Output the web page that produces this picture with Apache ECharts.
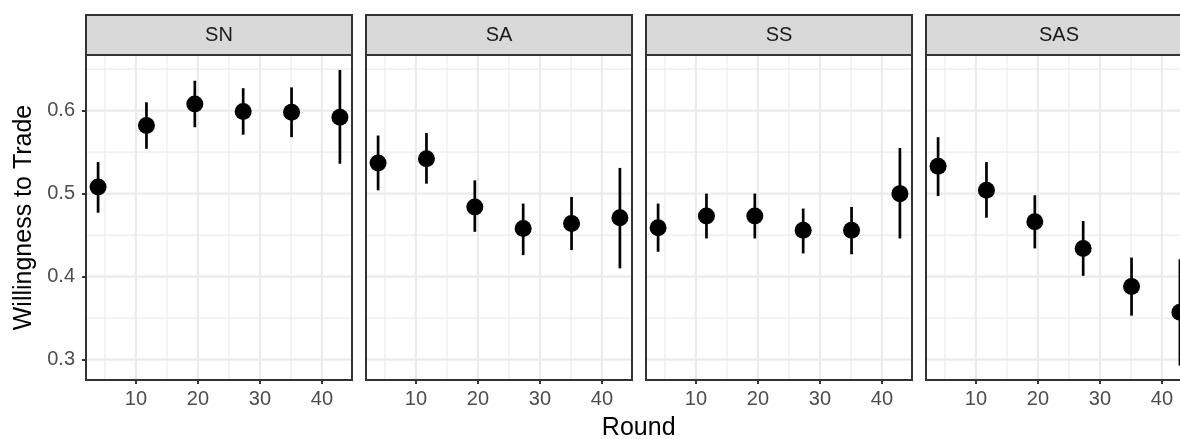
<!DOCTYPE html>
<html><head><meta charset="utf-8">
<script src="https://cdn.jsdelivr.net/npm/echarts@6/dist/echarts.min.js"></script>
<style>html,body{margin:0;padding:0;background:#fff}#c{width:1180px;height:439px}</style>
</head><body><div id="c"></div>
<script>
// ---- data ----
const panels = ['SN', 'SA', 'SS', 'SAS'];
const rounds = [3.9, 11.7, 19.5, 27.3, 35.1, 42.9];

const meanSN = [0.508, 0.582, 0.608, 0.599, 0.598, 0.592];
const loSN   = [0.477, 0.554, 0.580, 0.571, 0.568, 0.536];
const hiSN   = [0.538, 0.610, 0.636, 0.627, 0.628, 0.649];

const meanSA = [0.537, 0.542, 0.484, 0.458, 0.464, 0.471];
const loSA   = [0.504, 0.512, 0.454, 0.426, 0.432, 0.410];
const hiSA   = [0.570, 0.573, 0.516, 0.488, 0.496, 0.531];

const meanSS = [0.459, 0.473, 0.473, 0.456, 0.456, 0.500];
const loSS   = [0.430, 0.446, 0.446, 0.428, 0.427, 0.446];
const hiSS   = [0.488, 0.500, 0.500, 0.482, 0.484, 0.555];

const meanSAS = [0.533, 0.504, 0.466, 0.434, 0.388, 0.357];
const loSAS   = [0.497, 0.471, 0.434, 0.401, 0.353, 0.293];
const hiSAS   = [0.568, 0.538, 0.498, 0.467, 0.423, 0.421];

const xTicks = [10, 20, 30, 40];
const xMinor = [5, 15, 25, 35];
const yTicks = [0.3, 0.4, 0.5, 0.6];
const yMinor = [0.35, 0.45, 0.55, 0.65];

const xMin = 1.95, xMax = 44.85;
const yMin = 0.2755, yMax = 0.667;

const xTitle = 'Round';
const yTitle = 'Willingness to Trade';

// ---- build ----
const means = [meanSN, meanSA, meanSS, meanSAS];
const los = [loSN, loSA, loSS, loSAS];
const his = [hiSN, hiSA, hiSS, hiSAS];

const FONT = '"Liberation Sans", Arial, Helvetica, sans-serif';
const P_LEFT = 86, P_STEP = 280, P_W = 266, P_TOP = 55, P_H = 325;

const grids = [], xAxes = [], yAxes = [], series = [], graphics = [];

function vLines(vals, i, width) {
  return {
    type: 'custom', xAxisIndex: i, yAxisIndex: i, z: 1, silent: true,
    data: vals.map(v => [v, yMin]), encode: { x: 0, y: 1 },
    renderItem: (params, api) => {
      const cs = params.coordSys;
      const x = api.coord([api.value(0), yMin])[0];
      return { type: 'line', shape: { x1: x, y1: cs.y, x2: x, y2: cs.y + cs.height },
        style: { stroke: '#EBEBEB', lineWidth: width } };
    }
  };
}
function hLines(vals, i, width) {
  return {
    type: 'custom', xAxisIndex: i, yAxisIndex: i, z: 1, silent: true,
    data: vals.map(v => [xMin, v]), encode: { x: 0, y: 1 },
    renderItem: (params, api) => {
      const cs = params.coordSys;
      const y = api.coord([xMin, api.value(1)])[1];
      return { type: 'line', shape: { x1: cs.x, y1: y, x2: cs.x + cs.width, y2: y },
        style: { stroke: '#EBEBEB', lineWidth: width } };
    }
  };
}

panels.forEach((name, i) => {
  const left = P_LEFT + P_STEP * i;
  grids.push({ left: left, top: P_TOP, width: P_W, height: P_H, show: false,
    containLabel: false, outerBoundsMode: 'none' });
  xAxes.push({
    gridIndex: i, type: 'value', min: xMin, max: xMax,
    splitLine: { show: false }, axisLine: { show: false },
    axisTick: { show: true, customValues: xTicks, length: 4, lineStyle: { color: '#333333', width: 2 } },
    axisLabel: { show: true, customValues: xTicks, margin: 9, color: '#4D4D4D', fontSize: 20, fontFamily: FONT,
      hideOverlap: false }
  });
  yAxes.push({
    gridIndex: i, type: 'value', min: yMin, max: yMax,
    splitLine: { show: false }, axisLine: { show: false },
    axisTick: { show: i === 0, customValues: yTicks, length: 4, lineStyle: { color: '#333333', width: 2 } },
    axisLabel: { show: i === 0, customValues: yTicks, margin: 11, color: '#4D4D4D', fontSize: 20, fontFamily: FONT,
      formatter: v => v.toFixed(1) }
  });

  series.push(vLines(xMinor, i, 1.1));
  series.push(hLines(yMinor, i, 1.1));
  series.push(vLines(xTicks, i, 2.2));
  series.push(hLines(yTicks, i, 2.2));

  series.push({
    type: 'custom', name: name + ' CI', xAxisIndex: i, yAxisIndex: i, z: 3,
    data: rounds.map((r, k) => [r, los[i][k], his[i][k]]),
    encode: { x: 0, y: [1, 2] },
    renderItem: (params, api) => {
      const x = api.value(0);
      const p1 = api.coord([x, api.value(1)]);
      const p2 = api.coord([x, api.value(2)]);
      return { type: 'line', shape: { x1: p1[0], y1: p1[1], x2: p2[0], y2: p2[1] },
        style: { stroke: '#000000', lineWidth: 2.7 } };
    }
  });
  series.push({
    type: 'scatter', name: name, xAxisIndex: i, yAxisIndex: i, z: 4,
    data: rounds.map((r, k) => [r, means[i][k]]),
    symbol: 'circle', symbolSize: 17,
    itemStyle: { color: '#000000', opacity: 1 }
  });

  // strip
  graphics.push({ type: 'rect', z: 100, shape: { x: left, y: 15, width: P_W, height: 40 },
    style: { fill: '#D9D9D9', stroke: '#333333', lineWidth: 2 } });
  graphics.push({ type: 'text', z: 101, x: left + P_W / 2, y: 35.5,
    style: { text: name, fill: '#1A1A1A', font: '20px ' + FONT, textAlign: 'center', textVerticalAlign: 'middle' } });
  // panel border
  graphics.push({ type: 'rect', z: 100, shape: { x: left, y: P_TOP, width: P_W, height: P_H },
    style: { fill: 'none', stroke: '#333333', lineWidth: 2 } });
});

graphics.push({ type: 'text', z: 101, x: 24, y: P_TOP + P_H / 2, rotation: Math.PI / 2,
  style: { text: yTitle, fill: '#000000', font: '25px ' + FONT, textAlign: 'center', textVerticalAlign: 'middle' } });
graphics.push({ type: 'text', z: 101, x: 638.7, y: 428.5,
  style: { text: xTitle, fill: '#000000', font: '25px ' + FONT, textAlign: 'center', textVerticalAlign: 'middle' } });

const chart = echarts.init(document.getElementById('c'), null, { renderer: 'canvas' });
chart.setOption({
  animation: false,
  backgroundColor: '#ffffff',
  grid: grids, xAxis: xAxes, yAxis: yAxes, series: series,
  graphic: { elements: graphics }
});
</script>
</body></html>
